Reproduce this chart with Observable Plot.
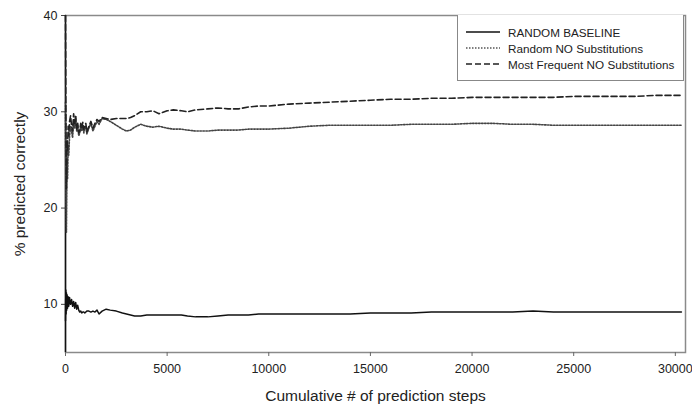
<!DOCTYPE html>
<html>
<head>
<meta charset="utf-8">
<script src="https://cdn.jsdelivr.net/npm/d3@7"></script>
<script src="https://cdn.jsdelivr.net/npm/@observablehq/plot@0.6"></script>
<style>
  html, body { margin: 0; padding: 0; background: #fff; }
  #wrap { position: relative; width: 692px; height: 405px; font-family: "Liberation Sans", Arial, sans-serif; overflow: hidden; }
  #legend { position: absolute; left: 457px; top: 15px; width: 227px; height: 66px; border: 1px solid #888; border-top: none; background: #fff; box-sizing: border-box; font-size: 11.7px; color: #222; }
  .row { position: absolute; left: 8px; height: 14px; display: flex; align-items: center; }
  .row svg { margin-right: 8px; }
  g[aria-label="x-axis label"] text, g[aria-label="y-axis label"] text { font-size: 15.5px; }
</style>
</head>
<body>
<div id="wrap"></div>
<script>
const steps = [0,15,30,45,60,80,100,130,160,200,250,300,350,400,450,500,550,600,650,700,750,800,850,900,950,1000,1050,1150,1250,1350,1450,1550,1650,1800,2000,2200,2500,2800,3000,3200,3400,3700,4000,4300,4600,5000,5300,5700,6000,6400,7000,7500,8000,8500,9000,9500,10000,11000,12000,13000,14000,15000,16000,17000,18000,19000,20000,21000,22000,23000,24000,25000,26000,27000,28000,29000,30300];

const randomBaseline = [8.3,11.5,9.0,11.2,9.4,11.0,9.6,10.8,9.8,10.7,10.0,10.5,9.8,10.3,9.6,10.2,9.5,9.9,9.4,9.2,9.3,9.1,9.2,9.2,9.1,9.2,9.3,9.3,9.2,9.3,9.2,9.4,9.0,9.3,9.5,9.4,9.3,9.1,9.0,8.9,8.8,8.8,8.9,8.9,8.9,8.9,8.9,8.9,8.8,8.7,8.7,8.8,8.9,8.9,8.9,9.0,9.0,9.0,9.0,9.0,9.0,9.1,9.1,9.1,9.2,9.2,9.2,9.2,9.2,9.3,9.2,9.2,9.2,9.2,9.2,9.2,9.2];

const randomNoSubs = [31.0,24.0,20.5,17.5,21.0,25.0,23.0,26.5,25.5,27.5,28.5,28.0,27.3,29.0,28.3,29.5,28.0,28.6,27.5,27.8,28.5,28.0,28.6,27.8,28.3,28.5,27.7,28.3,28.8,28.0,28.5,29.0,28.7,29.3,29.2,29.0,28.6,28.2,28.0,28.1,28.4,28.7,28.5,28.4,28.5,28.3,28.2,28.2,28.1,28.0,28.0,28.1,28.1,28.1,28.2,28.2,28.2,28.3,28.5,28.6,28.6,28.6,28.6,28.7,28.7,28.7,28.8,28.8,28.7,28.7,28.6,28.6,28.6,28.6,28.6,28.6,28.6];

const mostFrequentNoSubs = [40.0,31.0,26.0,22.0,24.0,27.0,26.0,28.5,27.5,29.0,29.6,28.5,28.0,29.8,28.8,29.5,28.2,28.8,27.8,28.0,28.8,28.3,28.9,28.2,28.6,28.8,27.9,28.5,29.0,28.3,28.8,29.2,29.0,29.4,29.3,29.2,29.3,29.3,29.3,29.4,29.6,30.0,30.0,30.1,29.8,30.1,30.2,30.1,30.0,30.2,30.3,30.4,30.3,30.3,30.5,30.6,30.6,30.8,30.9,31.0,31.1,31.2,31.3,31.3,31.4,31.4,31.5,31.5,31.5,31.5,31.5,31.6,31.6,31.6,31.6,31.7,31.7];

const seriesNames = ["RANDOM BASELINE", "Random NO Substitutions", "Most Frequent NO Substitutions"];
const xTicks = [0, 5000, 10000, 15000, 20000, 25000, 30000];
const yTicks = [10, 20, 30, 40];

const rows = [];
[randomBaseline, randomNoSubs, mostFrequentNoSubs].forEach((vals, i) => {
  steps.forEach((s, j) => rows.push({ series: seriesNames[i], x: s, y: vals[j] }));
});

const fmt = d => String(d);

const chart = Plot.plot({
  width: 692,
  height: 405,
  marginLeft: 65,
  marginTop: 15,
  marginRight: 7,
  marginBottom: 53,
  style: { fontFamily: "Liberation Sans, Arial, sans-serif", fontSize: "12.5px", color: "#222", background: "#fff", overflow: "hidden" },
  x: { domain: [0, 30500] },
  y: { domain: [5, 40] },
  marks: [
    Plot.frame({ stroke: "#8a8a8a", strokeWidth: 1.5 }),
    Plot.axisX({ ticks: xTicks, tickFormat: fmt, tickSize: 4, tickPadding: 8, fontSize: 12.5, stroke: "#666", label: "Cumulative # of prediction steps", labelAnchor: "center", labelArrow: "none", labelOffset: 48 }),
    Plot.axisY({ ticks: yTicks, tickFormat: fmt, tickSize: 4, tickPadding: 4, fontSize: 12.5, stroke: "#444", label: "% predicted correctly", labelAnchor: "center", labelArrow: "none", labelOffset: 52 }),
    Plot.ruleX([0], { stroke: "#111", strokeWidth: 1.5 }),
    Plot.line(rows.filter(d => d.series === seriesNames[1]), { x: "x", y: "y", stroke: "#444", strokeWidth: 1.6, strokeDasharray: "1.5,1.5" }),
    Plot.line(rows.filter(d => d.series === seriesNames[2]), { x: "x", y: "y", stroke: "#222", strokeWidth: 1.6, strokeDasharray: "6,3" }),
    Plot.line(rows.filter(d => d.series === seriesNames[0]), { x: "x", y: "y", stroke: "#111", strokeWidth: 1.5 })
  ]
});

const wrap = document.getElementById("wrap");
wrap.appendChild(chart);

const legend = document.createElement("div");
legend.id = "legend";
const dashes = ["none", "1.5,1.5", "6,3"];
const colors = ["#111", "#555", "#222"];
seriesNames.forEach((name, i) => {
  const row = document.createElement("div");
  row.className = "row";
  row.style.top = (10 + i * 16) + "px";
  row.innerHTML = `<svg width="34" height="6"><line x1="0" y1="3" x2="34" y2="3" stroke="${colors[i]}" stroke-width="1.5" stroke-dasharray="${dashes[i]}"/></svg><span>${name}</span>`;
  legend.appendChild(row);
});
wrap.appendChild(legend);
</script>
</body>
</html>
